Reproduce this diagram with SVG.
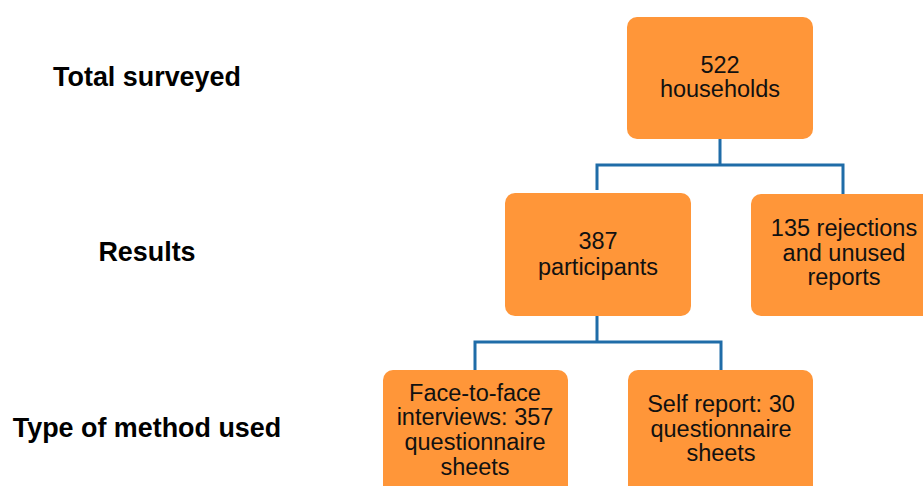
<svg xmlns="http://www.w3.org/2000/svg" width="923" height="486" viewBox="0 0 923 486">
<style>
.box{fill:#FF9639;}
.t{font-family:"Liberation Sans",Arial,sans-serif;font-size:23.5px;fill:#111;text-anchor:middle;}
.lbl{font-family:"Liberation Sans",Arial,sans-serif;font-size:26.9px;font-weight:bold;fill:#000;text-anchor:middle;}
.c{fill:none;stroke:#1F6CA8;stroke-width:3;}
</style>
<rect width="923" height="486" fill="#fff"/>
<g id="labels">
<text class="lbl" x="147" y="86">Total surveyed</text>
<text class="lbl" x="147" y="261">Results</text>
<text class="lbl" x="147" y="437">Type of method used</text>
</g>
<g id="connectors">
<path class="c" d="M720 139 V165 M597 190 V165 H843 V194"/>
<path class="c" d="M597 316 V342 M475 370 V342 H721 V370"/>
</g>
<g id="n1">
<rect class="box" x="627" y="17" width="186" height="122" rx="10"/>
<text class="t" x="720" y="73">522</text>
<text class="t" x="720" y="97">households</text>
</g>
<g id="n2">
<rect class="box" x="505" y="193" width="186" height="123" rx="10"/>
<text class="t" x="598" y="249">387</text>
<text class="t" x="598" y="275">participants</text>
</g>
<g id="n3">
<rect class="box" x="751" y="194" width="186" height="122" rx="10"/>
<text class="t" x="844" y="236">135 rejections</text>
<text class="t" x="844" y="261">and unused</text>
<text class="t" x="844" y="285">reports</text>
</g>
<g id="n4">
<rect class="box" x="383" y="370" width="185" height="130" rx="10"/>
<text class="t" x="475" y="401">Face-to-face</text>
<text class="t" x="475" y="425">interviews: 357</text>
<text class="t" x="475" y="450">questionnaire</text>
<text class="t" x="475" y="475">sheets</text>
</g>
<g id="n5">
<rect class="box" x="628" y="370" width="185" height="130" rx="10"/>
<text class="t" x="721" y="412">Self report: 30</text>
<text class="t" x="721" y="437">questionnaire</text>
<text class="t" x="721" y="461">sheets</text>
</g>
</svg>
